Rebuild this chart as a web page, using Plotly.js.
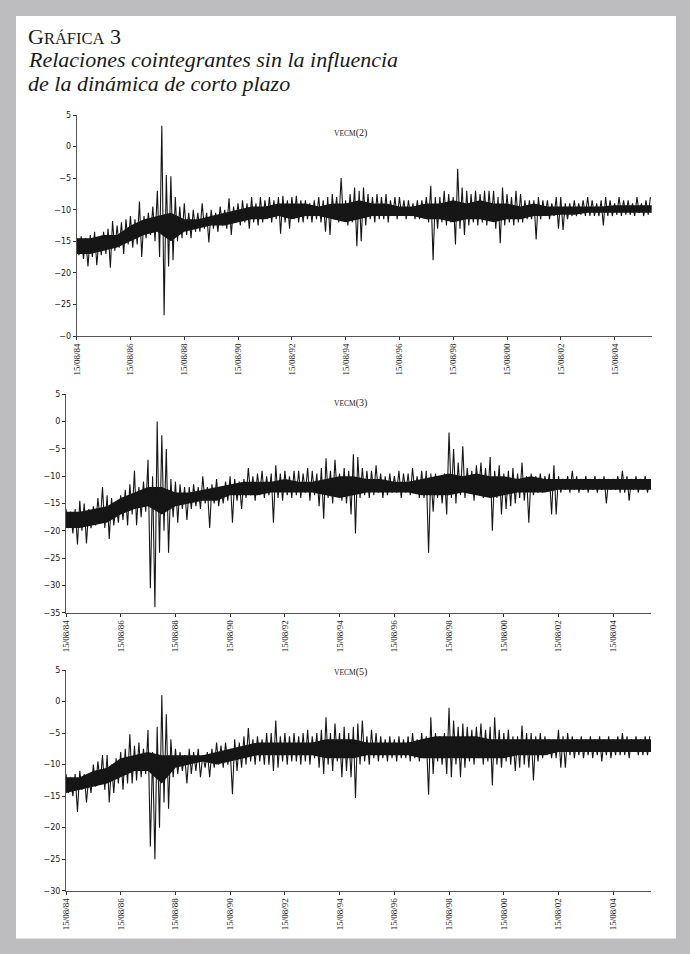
<!DOCTYPE html>
<html>
<head>
<meta charset="utf-8">
<script src="https://cdn.plot.ly/plotly-3.0.1.min.js"></script>
<style>
  body { margin: 0; background: #bdbdbf; }
  #chart { width: 690px; height: 954px; }
</style>
</head>
<body>
<div id="chart"></div>
<script>
// monthly readings (high / low alternating), Aug 1984 .. Dec 2005
const vecm2 = [
  -14.5, -17.2, -14.2, -17.8, -14.5,
  -19.0, -14.0, -17.5, -13.5, -18.8, -14.5, -17.2, -13.5, -17.0, -13.0, -19.2, -11.8,
  -16.5, -12.5, -16.0, -12.0, -17.0, -11.5, -15.5, -11.0, -16.0, -11.5, -15.5, -8.7,
  -17.5, -11.0, -14.5, -10.5, -14.0, -9.5, -15.0, -7.0, -17.5, 3.3, -26.7, -4.5,
  -19.0, -4.7, -18.0, -8.0, -15.0, -9.5, -14.5, -9.0, -14.0, -10.5, -14.5, -10.0,
  -13.5, -10.5, -13.5, -9.0, -13.0, -10.5, -15.2, -10.0, -13.0, -10.5, -13.5, -9.5,
  -12.5, -10.0, -13.0, -8.2, -14.0, -9.5, -12.0, -9.0, -12.5, -8.5, -12.0, -9.0,
  -13.0, -8.0, -12.0, -9.0, -12.5, -8.0, -12.0, -8.5, -11.5, -8.0, -12.0, -8.5,
  -11.5, -8.0, -13.8, -7.8, -12.0, -8.5, -13.0, -8.0, -11.5, -7.8, -12.0, -8.5,
  -12.0, -8.5, -11.5, -9.0, -12.0, -8.5, -11.5, -8.0, -12.0, -8.5, -13.5, -8.0,
  -14.0, -7.5, -11.5, -8.0, -12.0, -5.0, -11.5, -8.5, -12.5, -7.5, -12.0, -6.5,
  -15.8, -7.0, -15.0, -6.5, -12.5, -7.5, -11.5, -8.0, -12.0, -7.5, -11.5, -8.0,
  -11.5, -7.5, -12.0, -8.5, -11.0, -8.0, -11.5, -8.0, -11.0, -8.5, -11.5, -8.5,
  -11.0, -9.0, -11.5, -8.5, -11.5, -8.5, -11.0, -8.0, -12.0, -6.2, -18.0, -8.0,
  -13.0, -8.0, -12.0, -7.0, -12.5, -7.5, -12.0, -8.0, -15.5, -3.5, -13.0, -6.5,
  -14.0, -7.0, -12.5, -7.5, -12.0, -7.0, -12.5, -7.5, -12.0, -7.0, -12.5, -7.0,
  -11.5, -7.0, -13.0, -8.0, -15.3, -6.5, -12.5, -7.5, -12.0, -8.0, -12.5, -7.0,
  -12.0, -7.5, -12.0, -8.5, -11.5, -8.5, -11.5, -8.5, -14.7, -8.0, -11.5, -8.5,
  -11.0, -8.5, -11.5, -9.0, -11.0, -8.0, -13.0, -8.0, -13.2, -9.0, -11.5, -9.0,
  -11.0, -8.5, -11.0, -9.0, -10.8, -8.5, -11.0, -8.0, -11.0, -8.5, -11.0, -9.0,
  -11.0, -8.5, -12.5, -8.0, -11.0, -8.5, -11.0, -9.0, -10.8, -8.0, -11.0, -8.5,
  -10.8, -8.5, -10.8, -9.0, -11.0, -8.0, -10.5, -9.0, -11.0, -8.5, -10.8, -8.0
];

const vecm3 = [
  -16.0, -19.5, -16.5, -20.5, -16.0,
  -22.5, -14.5, -20.0, -15.0, -22.3, -16.0, -19.5, -15.5, -19.0, -14.0, -18.5, -12.0,
  -19.5, -13.5, -21.5, -14.0, -19.0, -15.0, -18.5, -13.5, -18.0, -12.5, -19.0, -11.5,
  -17.0, -9.0, -19.0, -12.0, -17.5, -11.0, -16.5, -7.0, -30.5, -10.0, -34.0, 0.0,
  -24.0, -2.5, -20.0, -5.0, -24.0, -10.5, -17.5, -11.0, -18.5, -11.5, -16.0, -12.0,
  -18.0, -12.0, -16.0, -11.5, -15.5, -12.0, -16.0, -10.0, -15.0, -12.0, -19.5, -11.5,
  -15.0, -10.5, -15.5, -12.0, -15.0, -11.0, -14.5, -10.0, -18.5, -10.5, -14.5, -11.0,
  -16.0, -10.5, -14.0, -8.5, -13.5, -10.0, -14.5, -9.5, -13.5, -9.0, -14.0, -10.0,
  -13.5, -9.5, -18.5, -8.0, -14.0, -9.5, -14.5, -9.0, -13.5, -10.0, -14.0, -9.0,
  -13.5, -9.0, -14.0, -9.5, -13.0, -8.5, -14.5, -9.0, -13.5, -9.5, -15.5, -8.5,
  -17.8, -6.7, -14.0, -9.0, -15.0, -7.0, -13.5, -9.5, -14.5, -8.5, -15.0, -9.0,
  -17.0, -6.0, -20.5, -6.5, -14.0, -8.5, -13.5, -9.0, -14.0, -9.0, -13.5, -8.0,
  -13.0, -9.5, -14.0, -10.0, -13.5, -9.5, -13.0, -10.0, -13.0, -9.0, -14.0, -9.5,
  -13.0, -9.5, -13.5, -8.5, -13.0, -10.0, -14.0, -9.0, -14.0, -9.0, -24.0, -9.5,
  -16.5, -9.5, -14.0, -10.0, -15.0, -9.5, -17.0, -2.0, -14.0, -5.0, -15.0, -7.5,
  -13.5, -4.5, -14.0, -8.5, -13.0, -9.0, -14.5, -8.0, -13.0, -7.5, -14.0, -8.5,
  -13.5, -6.5, -20.0, -9.0, -14.0, -8.0, -17.0, -9.5, -16.0, -9.0, -15.5, -8.5,
  -15.0, -9.5, -14.0, -7.5, -14.5, -10.0, -18.5, -9.5, -13.5, -10.0, -13.0, -9.5,
  -13.0, -10.0, -12.5, -9.5, -17.0, -8.0, -17.0, -10.0, -13.0, -10.5, -12.5, -10.0,
  -13.0, -9.0, -12.5, -10.0, -13.0, -10.5, -12.5, -10.0, -13.0, -10.5, -12.5, -10.0,
  -13.0, -10.5, -12.5, -10.0, -15.0, -10.5, -12.5, -10.5, -12.5, -10.0, -13.0, -9.0,
  -13.0, -10.0, -14.5, -10.5, -12.5, -10.0, -13.0, -10.5, -12.5, -10.0, -13.0, -10.5
];

const vecm5 = [
  -11.5, -14.5, -12.0, -15.0, -11.5,
  -17.5, -11.0, -14.0, -11.5, -16.0, -12.0, -14.5, -10.0, -13.5, -9.5, -13.0, -8.5,
  -14.0, -8.5, -16.0, -10.0, -14.5, -9.0, -13.0, -8.0, -14.0, -7.5, -13.0, -5.2,
  -13.0, -7.0, -12.5, -6.5, -12.0, -7.5, -11.5, -4.5, -23.0, -8.0, -25.0, -4.0,
  -20.0, 1.0, -16.0, -2.0, -17.0, -6.0, -12.0, -7.5, -11.5, -8.0, -11.0, -8.5,
  -13.0, -7.5, -11.5, -8.0, -11.0, -7.5, -12.0, -8.5, -10.5, -8.0, -12.0, -7.5,
  -10.5, -6.5, -10.0, -7.0, -10.5, -6.5, -10.0, -7.5, -14.7, -6.0, -11.0, -6.5,
  -10.5, -5.5, -10.0, -4.2, -9.5, -6.0, -10.0, -5.5, -9.5, -6.0, -10.0, -5.0,
  -10.0, -5.0, -11.0, -3.0, -10.5, -5.5, -9.5, -5.0, -10.0, -5.5, -9.5, -5.0,
  -9.5, -5.5, -10.0, -5.0, -9.5, -4.5, -10.0, -5.5, -9.0, -5.0, -10.5, -4.5,
  -11.5, -2.5, -10.0, -5.0, -11.0, -3.5, -9.5, -5.0, -12.0, -4.0, -11.0, -5.0,
  -12.0, -4.0, -15.3, -3.5, -10.0, -3.0, -9.5, -5.5, -10.0, -4.5, -9.0, -5.0,
  -9.5, -5.5, -9.0, -6.0, -9.5, -5.5, -9.0, -6.0, -9.5, -5.5, -9.0, -6.0,
  -9.0, -5.5, -9.5, -5.0, -9.0, -6.0, -9.5, -5.0, -9.0, -5.5, -14.8, -2.5,
  -11.5, -5.0, -9.5, -5.5, -10.0, -5.0, -11.5, -1.0, -12.0, -3.0, -10.0, -4.0,
  -12.0, -3.5, -10.5, -4.0, -9.5, -4.5, -10.0, -4.0, -9.0, -3.5, -10.0, -4.5,
  -9.5, -4.0, -13.3, -2.5, -10.0, -4.5, -10.5, -5.0, -9.5, -4.5, -10.0, -5.5,
  -11.0, -5.5, -10.5, -3.8, -10.0, -5.0, -10.5, -5.0, -12.5, -5.5, -9.5, -5.0,
  -9.0, -5.5, -8.5, -6.0, -9.0, -6.0, -9.0, -4.5, -10.5, -5.5, -10.5, -5.0,
  -8.5, -5.5, -9.0, -6.0, -8.5, -5.5, -9.0, -6.0, -8.5, -5.5, -9.0, -6.0,
  -8.5, -5.5, -9.5, -6.0, -8.5, -5.5, -9.0, -6.0, -8.5, -5.5, -8.5, -5.0,
  -8.5, -5.5, -9.0, -6.0, -8.0, -5.5, -8.5, -6.0, -8.5, -5.5, -8.5, -5.5
];

// dense core of each series, read every six months from 15/08/84
const core2Hi = [-14.5, -14.5, -14, -14, -12.5, -11.5, -11, -10.5, -11.5, -11.5, -11, -10.5, -10, -9.5, -9.5,
  -9, -9, -9, -9.5, -9, -9, -8.5, -9, -9, -9.5, -9.5, -9, -9, -8.5, -9, -8.5, -9, -9, -9.5, -9,
  -9.5, -9.5, -9.5, -9.5, -9.5, -9.3, -9.3, -9.3, -9.3];
const core2Lo = [-17, -17, -16.5, -16, -15, -14, -13.5, -15, -13.5, -13, -12.5, -12.5, -12, -11.5, -11.5,
  -11, -11.5, -11, -11, -11.5, -12, -11.5, -11, -11, -11, -11, -11.5, -11.5, -12, -11.5, -11.5, -12, -11.5, -11.5, -11,
  -11, -10.8, -10.8, -10.5, -10.5, -10.5, -10.5, -10.5, -10.5];
const core3Hi = [-16.5, -16.5, -16, -15.5, -14, -13, -12, -12, -13, -13, -12.5, -12, -11.5, -11, -11,
  -11, -10.5, -11, -11, -10.5, -10, -10, -10.5, -10.5, -11, -11, -10.5, -10, -9.5, -10, -9.5, -10, -10, -10.5, -10,
  -10.5, -10.5, -10.5, -10.5, -10.5, -10.5, -10.5, -10.5, -10.5];
const core3Lo = [-19.5, -19.5, -19, -18.5, -17, -16, -15.5, -17, -15.5, -15, -14.5, -14.5, -13.5, -13.5, -13.5,
  -13, -13, -13, -13, -13.5, -14, -13.5, -13, -13, -13, -13, -13.5, -13.5, -13.5, -13, -13.5, -14, -13.5, -13, -13,
  -13, -12.5, -12.5, -12.5, -12.5, -12.5, -12.5, -12.5, -12.5];
const core5Hi = [-12, -12, -11, -10.5, -9, -8.5, -8, -8.5, -8.5, -8.5, -8.5, -8, -7.5, -7, -6.5,
  -6.5, -6.5, -6.5, -6.5, -6, -6, -6, -6.5, -6.5, -6.5, -6.5, -6, -5.5, -5.5, -5.5, -5.5, -6, -6, -6, -6,
  -6, -6, -6, -6, -6, -6, -6, -6, -6];
const core5Lo = [-14.5, -14, -13.5, -13, -12, -11, -11, -13, -10.5, -10, -9.5, -10, -9.5, -9, -8.5,
  -8.5, -8.5, -8.5, -8.5, -9, -9, -9, -8.5, -8.5, -8.5, -8.5, -9, -9, -9, -9, -9, -9, -9, -8.5, -8.5,
  -8.5, -8, -8, -8, -8, -8, -8, -8, -8];

const seriesNames = ['VECM(2)', 'VECM(3)', 'VECM(5)'];
const yTicks1 = [5, 0, -5, -10, -15, -20, -25, -30];
const yTickText1 = ['5', '0', '\u22125', '\u221210', '\u221215', '\u221220', '\u221225', '\u22120'];

// one date every `step` months, starting 15/08/84
function dates(n, step) {
  const out = [];
  for (let i = 0; i < n; i++) {
    const m = 7 + i * step;
    const y = 1984 + Math.floor(m / 12);
    const mm = (m % 12) + 1;
    out.push(y + '-' + (mm < 10 ? '0' + mm : mm) + '-15');
  }
  return out;
}

const W = 690, H = 954;
const px = (x) => x / W;
const py = (y) => 1 - y / H;
const ink = '#161616';

const panels = [
  { vals: vecm2, hi: core2Hi, lo: core2Lo },
  { vals: vecm3, hi: core3Hi, lo: core3Lo },
  { vals: vecm5, hi: core5Hi, lo: core5Lo }
];

const traces = [];
panels.forEach((p, k) => {
  const xa = k === 0 ? 'x' : 'x' + (k + 1);
  const ya = k === 0 ? 'y' : 'y' + (k + 1);
  const cx = dates(p.hi.length, 6);
  traces.push({ x: cx, y: p.hi, type: 'scatter', mode: 'lines', line: { width: 0, color: ink },
    xaxis: xa, yaxis: ya, showlegend: false, hoverinfo: 'skip' });
  traces.push({ x: cx, y: p.lo, type: 'scatter', mode: 'lines', line: { width: 0, color: ink },
    fill: 'tonexty', fillcolor: ink, xaxis: xa, yaxis: ya, showlegend: false, hoverinfo: 'skip' });
  traces.push({ x: dates(p.vals.length, 1), y: p.vals, type: 'scatter', mode: 'lines',
    line: { color: ink, width: 1.1 }, xaxis: xa, yaxis: ya, showlegend: false, hoverinfo: 'skip' });
});

function xAxis(domain, anchor) {
  return {
    domain: domain,
    anchor: anchor,
    type: 'date',
    range: ['1984-08-15', '2006-01-01'],
    tick0: '1984-08-15',
    dtick: 'M24',
    tickformat: '%d/%m/%y',
    tickangle: -90,
    ticks: 'outside',
    ticklen: 3,
    tickcolor: '#333',
    showline: true,
    linecolor: '#555',
    linewidth: 1,
    showgrid: false,
    zeroline: false,
    tickfont: { family: 'Liberation Serif, serif', size: 9, color: '#222' }
  };
}
function yAxis(domain, anchor, range) {
  return {
    domain: domain,
    anchor: anchor,
    range: range,
    dtick: 5,
    ticks: 'outside',
    ticklen: 3,
    tickcolor: '#333',
    showline: true,
    linecolor: '#555',
    linewidth: 1,
    showgrid: false,
    zeroline: false,
    tickfont: { family: 'DejaVu Sans, sans-serif', size: 8, color: '#222' }
  };
}

const y1 = yAxis([py(336), py(115)], 'x', [-30, 5]);
y1.tickmode = 'array';
y1.tickvals = yTicks1;
y1.ticktext = yTickText1;

// "VECM" in small capitals, the lag number at full size
function seriesLabel(name, yPix) {
  const cut = name.indexOf('(');
  return {
    text: '<span style="font-size:7.5px">' + name.slice(0, cut) + '</span>' + name.slice(cut),
    x: px(350), y: py(yPix), xref: 'paper', yref: 'paper', showarrow: false,
    font: { family: 'Liberation Serif, serif', size: 10, color: '#222' }
  };
}

const titleFont = { family: 'Liberation Serif, serif', size: 22, color: '#1a1a1a' };

const layout = {
  width: W,
  height: H,
  margin: { l: 0, r: 0, t: 0, b: 0 },
  paper_bgcolor: '#bdbdbf',
  plot_bgcolor: 'white',
  showlegend: false,
  xaxis: xAxis([px(76.7), px(651.7)], 'y'),
  yaxis: y1,
  xaxis2: xAxis([px(66), px(651)], 'y2'),
  yaxis2: yAxis([py(612.7), py(394.3)], 'x2', [-35, 5]),
  xaxis3: xAxis([px(66), px(651)], 'y3'),
  yaxis3: yAxis([py(890.7), py(670)], 'x3', [-30, 5]),
  shapes: [{
    type: 'rect', xref: 'paper', yref: 'paper', layer: 'below',
    x0: px(16), x1: px(676), y0: py(938.5), y1: py(16),
    fillcolor: 'white', line: { width: 0 }
  }],
  annotations: [
    { text: 'G<span style="font-size:16.5px">RÁFICA</span> 3', x: px(26), y: py(37), xref: 'paper', yref: 'paper',
      xanchor: 'left', yanchor: 'middle', showarrow: false, font: titleFont },
    { text: '<i>Relaciones cointegrantes sin la influencia</i>', x: px(26), y: py(59), xref: 'paper', yref: 'paper',
      xanchor: 'left', yanchor: 'middle', showarrow: false, font: titleFont },
    { text: '<i>de la dinámica de corto plazo</i>', x: px(26), y: py(83), xref: 'paper', yref: 'paper',
      xanchor: 'left', yanchor: 'middle', showarrow: false, font: titleFont },
    seriesLabel(seriesNames[0], 125),
    seriesLabel(seriesNames[1], 403),
    seriesLabel(seriesNames[2], 680)
  ]
};

Plotly.newPlot('chart', traces, layout, { staticPlot: true, displayModeBar: false });
</script>
</body>
</html>
